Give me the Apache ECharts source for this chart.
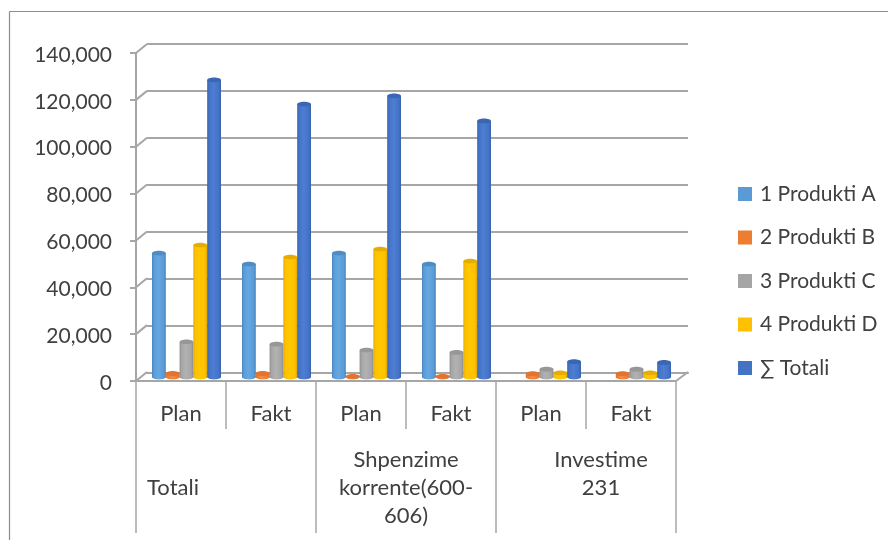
<!DOCTYPE html>
<html><head><meta charset="utf-8">
<style>html,body{margin:0;padding:0;background:#fff}#c{width:888px;height:540px}</style>
<script src="https://cdn.jsdelivr.net/npm/echarts@6/dist/echarts.min.js"></script>
</head><body><div id="c"></div>
<script>
const categories = ['Plan','Fakt','Plan','Fakt','Plan','Fakt'];
const groups = ['Totali','Shpenzime\nkorrente(600-\n606)','Investime\n231'];
const seriesNames = ['1 Produkti A','2 Produkti B','3 Produkti C','4 Produkti D','∑ Totali'];
const produktiA = [52900,48200,52900,48200,0,0];
const produktiB = [1500,1500,300,300,1400,1400];
const produktiC = [15000,14000,11500,10500,3300,3300];
const produktiD = [56300,51200,54600,49500,1800,1800];
const totali = [126800,116500,120000,109300,6500,6200];
const tickValues = [0,20000,40000,60000,80000,100000,120000,140000];
const colors = ['#5b9bd5','#ed7d31','#a5a5a5','#ffc000','#4472c4'];
const darks = ['#4682bb','#d56d28','#8a8a8a','#d9a400','#3560aa'];
const tops = ['#4f8cc4','#e07430','#979797','#e6ad00','#3a66b4'];
const lights = ['#66a8e2','#f58a42','#b2b2b2','#ffc800','#4d7ed4'];
const allValues = [produktiA,produktiB,produktiC,produktiD,totali];

const GRAY = '#a6a6a6', TEXT = '#404040', FONT = 'Lato, "Noto Sans", sans-serif';
const chart = echarts.init(document.getElementById('c'));

function barRenderer(si){
  return function(params, api){
    const v = api.value(1);
    if(!v) return {type:'group',children:[]};
    const base = api.coord([api.value(0),0]);
    const top = api.coord([api.value(0),v]);
    const w = api.size([1,0])[0]*0.1533;
    const left = base[0]-2.5*w+si*w, cx = left+w/2, ry = 2.4;
    const grad = new echarts.graphic.LinearGradient(0,0,1,0,[
      {offset:0,color:darks[si]},{offset:0.12,color:colors[si]},{offset:0.45,color:lights[si]},
      {offset:0.85,color:colors[si]},{offset:1,color:darks[si]}]);
    return {type:'group',children:[
      {type:'ellipse',shape:{cx:cx,cy:base[1],rx:w/2,ry:ry},style:{fill:grad}},
      {type:'rect',shape:{x:left,y:top[1],width:w,height:base[1]-top[1]},style:{fill:grad}},
      {type:'ellipse',shape:{cx:cx,cy:top[1],rx:w/2,ry:ry},style:{fill:tops[si]}}
    ]};
  };
}
const barSeries = seriesNames.map((n,si)=>({
  name:n,type:'custom',xAxisIndex:3,yAxisIndex:2,z:5,clip:false,
  itemStyle:{color:colors[si]},
  encode:{x:0,y:1},
  data:allValues[si].map((v,i)=>[i,v]),
  renderItem:barRenderer(si)
}));
const wallSeries = {
  type:'custom',xAxisIndex:0,yAxisIndex:0,z:2,silent:true,clip:false,
  encode:{y:0},
  data:tickValues.map(v=>[v]),
  renderItem(params,api){
    const p = api.coord([0,api.value(0)]);
    const x0 = params.coordSys.x;
    const lines = [{type:'line',shape:{x1:x0,y1:p[1],x2:x0+11,y2:p[1]-9},style:{stroke:GRAY,lineWidth:2}}];
    if(api.value(0)===0){
      const xr = x0+params.coordSys.width;
      lines.push({type:'line',shape:{x1:xr,y1:p[1],x2:xr+12,y2:p[1]-9},style:{stroke:GRAY,lineWidth:2}});
    }
    return {type:'group',children:lines};
  }
};
chart.setOption({
  animation:false,
  backgroundColor:'#fff',
  textStyle:{fontFamily:FONT,color:TEXT},
  legend:{
    data:seriesNames,orient:'vertical',left:733,top:178.5,itemWidth:14,itemHeight:14,itemGap:22.5,
    icon:'rect',selectedMode:false,
    textStyle:{fontFamily:FONT,fontSize:21,color:TEXT,padding:[0,0,0,3]}
  },
  grid:[
    {left:136,width:540,top:53,height:328},
    {left:147,width:541,top:44,height:329},
    {left:141.5,width:540,top:49,height:328}
  ],
  xAxis:[
    {type:'category',gridIndex:0,data:categories,
     axisLine:{show:true,lineStyle:{color:GRAY,width:2}},
     axisTick:{show:true,length:48,lineStyle:{color:GRAY,width:1.5}},
     axisLabel:{fontSize:22,color:TEXT,margin:22,fontFamily:FONT,interval:0}},
    {type:'category',gridIndex:0,data:[
        {value:groups[0],textStyle:{padding:[28,106,0,0]}},groups[1],
        {value:groups[2],textStyle:{padding:[0,0,0,30]}}],
     position:'bottom',
     axisLine:{show:false},
     axisTick:{show:true,length:152,lineStyle:{color:GRAY,width:1.5}},
     axisLabel:{fontSize:22,color:TEXT,margin:65,lineHeight:28,fontFamily:FONT,interval:0,verticalAlign:'top'}},
    {type:'category',gridIndex:1,data:categories,
     axisLine:{show:true,lineStyle:{color:GRAY,width:2}},axisTick:{show:false},axisLabel:{show:false}},
    {type:'category',gridIndex:2,data:categories,show:false}
  ],
  yAxis:[
    {type:'value',gridIndex:0,min:0,max:140000,interval:20000,
     axisLine:{show:true,lineStyle:{color:GRAY,width:2}},
     axisTick:{show:true,length:6,lineStyle:{color:GRAY,width:2}},
     splitLine:{show:false},
     axisLabel:{color:TEXT,margin:24,fontFamily:FONT,
       formatter:v=>'{a|'+v.toLocaleString('en-US')+'}',
       rich:{a:{fontSize:21,color:TEXT,fontFamily:FONT,padding:[4,0,0,0]}}}},
    {type:'value',gridIndex:1,min:0,max:140000,interval:20000,
     axisLine:{show:false},axisTick:{show:false},axisLabel:{show:false},
     splitLine:{show:true,lineStyle:{color:GRAY,width:2}}},
    {type:'value',gridIndex:2,min:0,max:140000,interval:20000,show:false,splitLine:{show:false}}
  ],
  graphic:[
    {type:'line',shape:{x1:9.5,y1:540,x2:9.5,y2:11.5},style:{stroke:'#8c8c8c',lineWidth:1.2},silent:true},
    {type:'line',shape:{x1:9.5,y1:11.5,x2:888,y2:11.5},style:{stroke:'#8c8c8c',lineWidth:1.2},silent:true}
  ],
  series:[wallSeries].concat(barSeries)
});
</script></body></html>
